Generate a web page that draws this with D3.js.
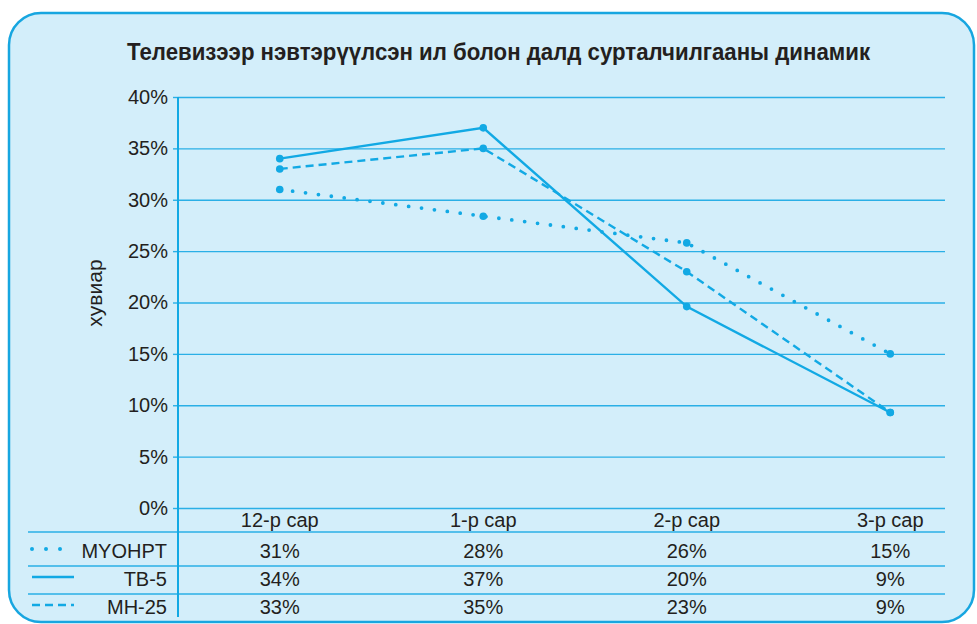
<!DOCTYPE html>
<html>
<head>
<meta charset="utf-8">
<script src="https://cdn.jsdelivr.net/npm/d3@7"></script>
<style>
  body { margin: 0; background: #fff; }
  svg text { font-family: "Liberation Sans", Arial, sans-serif; fill: #231f20; }
</style>
</head>
<body>
<div id="chart"></div>
<script>
var months = ["12-р сар", "1-р сар", "2-р сар", "3-р сар"];
var seriesNames = ["MYOHPT", "TB-5", "MH-25"];
var myohpt = [31, 28.4, 25.8, 15];
var tb5 = [34, 37, 19.6, 9.3];
var mh25 = [33, 35, 23, 9.3];
var yTicks = [0, 5, 10, 15, 20, 25, 30, 35, 40];

var blue = "#12a9e4",
    grid = "#2aafe6";

var W = 977, H = 624;
var svg = d3.select("#chart").append("svg")
    .attr("width", W)
    .attr("height", H);

// panel
svg.append("rect")
    .attr("x", 9).attr("y", 13)
    .attr("width", 965).attr("height", 609)
    .attr("rx", 32).attr("ry", 32)
    .attr("fill", "#d3eefa")
    .attr("stroke", "#17a6e0")
    .attr("stroke-width", 2.5);

svg.append("text")
    .attr("x", 127).attr("y", 60)
    .attr("textLength", 743)
    .attr("lengthAdjust", "spacingAndGlyphs")
    .style("font-size", "24px")
    .style("font-weight", "bold")
    .text("Телевизээр нэвтэрүүлсэн ил болон далд сурталчилгааны динамик");

var axisX = 178, gridEnd = 945;
var x = d3.scaleBand().domain(months).range([axisX, 992]).padding(0);
var y = d3.scaleLinear().domain([0, 40]).range([508, 97]);
var cx = function(m) { return x(m) + x.bandwidth() / 2; };

// gridlines + y ticks
var yAxis = svg.append("g")
    .attr("transform", "translate(" + axisX + ",0)")
    .call(d3.axisLeft(y)
        .tickValues(yTicks)
        .tickSize(5)
        .tickPadding(5)
        .tickFormat(function(d) { return d + "%"; }));
yAxis.select(".domain").remove();
yAxis.selectAll(".tick line").attr("stroke", grid).attr("stroke-width", 1.4);
yAxis.selectAll(".tick text")
    .attr("fill", "#231f20")
    .style("font-size", "20px");
yAxis.selectAll(".tick").append("line")
    .attr("x1", 0).attr("x2", gridEnd - axisX)
    .attr("stroke", grid).attr("stroke-width", 1.4);

// table
var rowLines = [532, 566, 594];
svg.selectAll(".rowline").data(rowLines).enter().append("line")
    .attr("x1", 28).attr("x2", gridEnd)
    .attr("y1", function(d) { return d; }).attr("y2", function(d) { return d; })
    .attr("stroke", grid).attr("stroke-width", 1.4);

svg.append("line")
    .attr("x1", axisX).attr("x2", axisX)
    .attr("y1", 97).attr("y2", 617)
    .attr("stroke", blue).attr("stroke-width", 2);

svg.selectAll(".mlabel").data(months).enter().append("text")
    .attr("x", cx).attr("y", 527)
    .attr("text-anchor", "middle")
    .style("font-size", "20px")
    .text(function(d) { return d; });

var series = [
    {name: seriesNames[0], values: myohpt, dash: "0 13", width: 3.8, base: 558},
    {name: seriesNames[1], values: tb5, dash: null, width: 2.4, base: 586},
    {name: seriesNames[2], values: mh25, dash: "8 5", width: 2.4, base: 614}
];

series.forEach(function(s) {
    svg.append("text")
        .attr("x", 167).attr("y", s.base)
        .attr("text-anchor", "end")
        .style("font-size", "20px")
        .text(s.name);
    svg.selectAll(null).data(s.values).enter().append("text")
        .attr("x", function(d, i) { return cx(months[i]); })
        .attr("y", s.base)
        .attr("text-anchor", "middle")
        .style("font-size", "20px")
        .text(function(d) { return Math.round(d) + "%"; });

    // legend swatch
    var ly = s.base - 9;
    if (s.name === "MYOHPT") {
        svg.selectAll(null).data([32, 46, 60]).enter().append("circle")
            .attr("cx", function(d) { return d; }).attr("cy", ly)
            .attr("r", 2).attr("fill", blue);
    } else {
        svg.append("line")
            .attr("x1", 32).attr("x2", 74)
            .attr("y1", ly).attr("y2", ly)
            .attr("stroke", blue).attr("stroke-width", s.width)
            .attr("stroke-dasharray", s.dash);
    }

    var line = d3.line()
        .x(function(d, i) { return cx(months[i]); })
        .y(function(d) { return y(d); });
    svg.append("path")
        .datum(s.values)
        .attr("d", line)
        .attr("fill", "none")
        .attr("stroke", blue)
        .attr("stroke-width", s.width)
        .attr("stroke-linecap", s.dash === "0 13" ? "round" : "butt")
        .attr("stroke-dasharray", s.dash);
    svg.selectAll(null).data(s.values).enter().append("circle")
        .attr("cx", function(d, i) { return cx(months[i]); })
        .attr("cy", function(d) { return y(d); })
        .attr("r", 3.8)
        .attr("fill", blue);
});

svg.append("text")
    .attr("transform", "translate(102,293) rotate(-90)")
    .attr("text-anchor", "middle")
    .style("font-size", "21px")
    .text("хувиар");
</script>
</body>
</html>
